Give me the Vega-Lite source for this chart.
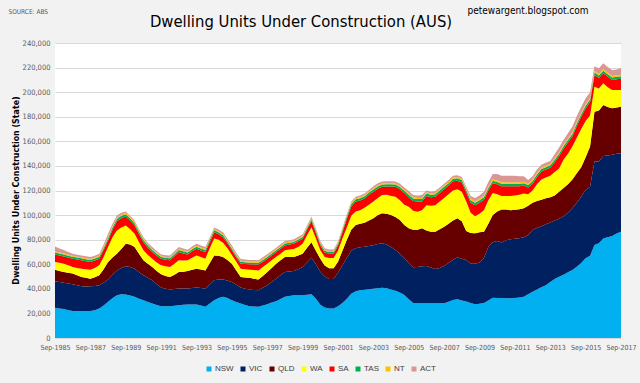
{
"$schema": "https://vega.github.io/schema/vega-lite/v6.json",
"width": 566, "height": 295,
"autosize": "none",
"padding": {"left": 55, "top": 43, "right": 19, "bottom": 45},
"background": "#f2f2f2",
"config": {"view": {"fill": "#ffffff", "stroke": null}},
"title": {"text": "Dwelling Units Under Construction (AUS)", "frame": "group", "anchor": "middle", "dx": -37, "offset": -25, "fontSize": 16.5, "fontWeight": "normal", "font": "Liberation Sans Narrow, DejaVu Sans Condensed, Liberation Sans", "color": "#000000"},
"datasets": {"ord": [{"state": "NSW", "o": 1}, {"state": "VIC", "o": 2}, {"state": "QLD", "o": 3}, {"state": "WA", "o": 4}, {"state": "SA", "o": 5}, {"state": "TAS", "o": 6}, {"state": "NT", "o": 7}, {"state": "ACT", "o": 8}]},
"data": {"values": [
{"q":"Sep-1985","NSW":24600,"VIC":21600,"QLD":9400,"WA":6200,"SA":6200,"TAS":1600,"NT":800,"ACT":4100},
{"q":"Dec-1985","NSW":24000,"VIC":21600,"QLD":9000,"WA":6600,"SA":6000,"TAS":1600,"NT":800,"ACT":3200},
{"q":"Mar-1986","NSW":23500,"VIC":21500,"QLD":8700,"WA":6800,"SA":5900,"TAS":1600,"NT":800,"ACT":2700},
{"q":"Jun-1986","NSW":22600,"VIC":21700,"QLD":8700,"WA":6200,"SA":6200,"TAS":1600,"NT":800,"ACT":2200},
{"q":"Sep-1986","NSW":21900,"VIC":21800,"QLD":8700,"WA":5400,"SA":6700,"TAS":1600,"NT":800,"ACT":1700},
{"q":"Dec-1986","NSW":22000,"VIC":20900,"QLD":8100,"WA":6000,"SA":6800,"TAS":1600,"NT":800,"ACT":1600},
{"q":"Mar-1987","NSW":21900,"VIC":20200,"QLD":7600,"WA":6700,"SA":6800,"TAS":1600,"NT":800,"ACT":1600},
{"q":"Jun-1987","NSW":21800,"VIC":20200,"QLD":7000,"WA":7000,"SA":6500,"TAS":1600,"NT":800,"ACT":1600},
{"q":"Sep-1987","NSW":21900,"VIC":20200,"QLD":6200,"WA":7300,"SA":6200,"TAS":1600,"NT":800,"ACT":1700},
{"q":"Dec-1987","NSW":22600,"VIC":19700,"QLD":7200,"WA":7500,"SA":6000,"TAS":1600,"NT":800,"ACT":1600},
{"q":"Mar-1988","NSW":24000,"VIC":18900,"QLD":8100,"WA":8100,"SA":5400,"TAS":1600,"NT":800,"ACT":1700},
{"q":"Jun-1988","NSW":26500,"VIC":18500,"QLD":11000,"WA":10000,"SA":5500,"TAS":1700,"NT":800,"ACT":2000},
{"q":"Sep-1988","NSW":29400,"VIC":18100,"QLD":14300,"WA":12200,"SA":5400,"TAS":1800,"NT":900,"ACT":2700},
{"q":"Dec-1988","NSW":32300,"VIC":19200,"QLD":14000,"WA":16500,"SA":6000,"TAS":1900,"NT":900,"ACT":2200},
{"q":"Mar-1989","NSW":34800,"VIC":20200,"QLD":13600,"WA":18900,"SA":7500,"TAS":1900,"NT":900,"ACT":1800},
{"q":"Jun-1989","NSW":35500,"VIC":21500,"QLD":15500,"WA":17500,"SA":7500,"TAS":1900,"NT":900,"ACT":1500},
{"q":"Sep-1989","NSW":35400,"VIC":22900,"QLD":18400,"WA":14800,"SA":7300,"TAS":1900,"NT":900,"ACT":1400},
{"q":"Dec-1989","NSW":34500,"VIC":23300,"QLD":18200,"WA":12500,"SA":7000,"TAS":1900,"NT":900,"ACT":1200},
{"q":"Mar-1990","NSW":33500,"VIC":22900,"QLD":17600,"WA":10800,"SA":6700,"TAS":1900,"NT":900,"ACT":1300},
{"q":"Jun-1990","NSW":32000,"VIC":21500,"QLD":15000,"WA":9500,"SA":6500,"TAS":1800,"NT":900,"ACT":1300},
{"q":"Sep-1990","NSW":30800,"VIC":20200,"QLD":12200,"WA":8100,"SA":6700,"TAS":1800,"NT":900,"ACT":1300},
{"q":"Dec-1990","NSW":29300,"VIC":19700,"QLD":11500,"WA":7000,"SA":6000,"TAS":1800,"NT":900,"ACT":1300},
{"q":"Mar-1991","NSW":28000,"VIC":19000,"QLD":10800,"WA":6700,"SA":5400,"TAS":1700,"NT":900,"ACT":1500},
{"q":"Jun-1991","NSW":26800,"VIC":17000,"QLD":10700,"WA":7000,"SA":5500,"TAS":1600,"NT":800,"ACT":1400},
{"q":"Sep-1991","NSW":25900,"VIC":15100,"QLD":10800,"WA":7300,"SA":5400,"TAS":1500,"NT":800,"ACT":1200},
{"q":"Dec-1991","NSW":25900,"VIC":14100,"QLD":10500,"WA":7800,"SA":5400,"TAS":1500,"NT":800,"ACT":1400},
{"q":"Mar-1992","NSW":25900,"VIC":13500,"QLD":10300,"WA":8100,"SA":5400,"TAS":1600,"NT":800,"ACT":1600},
{"q":"Jun-1992","NSW":26300,"VIC":13500,"QLD":11700,"WA":9000,"SA":6000,"TAS":1600,"NT":800,"ACT":1600},
{"q":"Sep-1992","NSW":26700,"VIC":13500,"QLD":13500,"WA":9500,"SA":6700,"TAS":1700,"NT":800,"ACT":1600},
{"q":"Dec-1992","NSW":27000,"VIC":13200,"QLD":13800,"WA":9000,"SA":5800,"TAS":1700,"NT":800,"ACT":1500},
{"q":"Mar-1993","NSW":27300,"VIC":12900,"QLD":14300,"WA":8700,"SA":4800,"TAS":1600,"NT":800,"ACT":1400},
{"q":"Jun-1993","NSW":27300,"VIC":13300,"QLD":14900,"WA":9700,"SA":5300,"TAS":1700,"NT":800,"ACT":1500},
{"q":"Sep-1993","NSW":27300,"VIC":13700,"QLD":15400,"WA":10800,"SA":5400,"TAS":1700,"NT":800,"ACT":1600},
{"q":"Dec-1993","NSW":26500,"VIC":14100,"QLD":15100,"WA":10100,"SA":5400,"TAS":1700,"NT":800,"ACT":1600},
{"q":"Mar-1994","NSW":25400,"VIC":14800,"QLD":14800,"WA":9500,"SA":5400,"TAS":1700,"NT":800,"ACT":1600},
{"q":"Jun-1994","NSW":28000,"VIC":15500,"QLD":17500,"WA":12000,"SA":5000,"TAS":1700,"NT":800,"ACT":1500},
{"q":"Sep-1994","NSW":30800,"VIC":16200,"QLD":20200,"WA":13800,"SA":5100,"TAS":1700,"NT":800,"ACT":1400},
{"q":"Dec-1994","NSW":32500,"VIC":15000,"QLD":19500,"WA":13000,"SA":4500,"TAS":1600,"NT":800,"ACT":1300},
{"q":"Mar-1995","NSW":33500,"VIC":14000,"QLD":18400,"WA":11600,"SA":4500,"TAS":1600,"NT":800,"ACT":1700},
{"q":"Jun-1995","NSW":32500,"VIC":14300,"QLD":16700,"WA":9500,"SA":4000,"TAS":1600,"NT":800,"ACT":1400},
{"q":"Sep-1995","NSW":30800,"VIC":14800,"QLD":14900,"WA":7000,"SA":3800,"TAS":1600,"NT":800,"ACT":1600},
{"q":"Dec-1995","NSW":29300,"VIC":14000,"QLD":11700,"WA":7000,"SA":3500,"TAS":1500,"NT":800,"ACT":1500},
{"q":"Mar-1996","NSW":28000,"VIC":13000,"QLD":8700,"WA":6700,"SA":4100,"TAS":1500,"NT":800,"ACT":1400},
{"q":"Jun-1996","NSW":26800,"VIC":13200,"QLD":9300,"WA":6700,"SA":4200,"TAS":1500,"NT":800,"ACT":1300},
{"q":"Sep-1996","NSW":25900,"VIC":13500,"QLD":9700,"WA":6500,"SA":4300,"TAS":1500,"NT":800,"ACT":1300},
{"q":"Dec-1996","NSW":25600,"VIC":13500,"QLD":9200,"WA":7000,"SA":4500,"TAS":1500,"NT":800,"ACT":1300},
{"q":"Mar-1997","NSW":25400,"VIC":13500,"QLD":8600,"WA":7500,"SA":4700,"TAS":1500,"NT":800,"ACT":1300},
{"q":"Jun-1997","NSW":26400,"VIC":14400,"QLD":9700,"WA":7200,"SA":4300,"TAS":1500,"NT":800,"ACT":1300},
{"q":"Sep-1997","NSW":27500,"VIC":15400,"QLD":10800,"WA":6800,"SA":4000,"TAS":1500,"NT":800,"ACT":1300},
{"q":"Dec-1997","NSW":28800,"VIC":16800,"QLD":11400,"WA":6200,"SA":4000,"TAS":1500,"NT":800,"ACT":1300},
{"q":"Mar-1998","NSW":30000,"VIC":18300,"QLD":12200,"WA":5400,"SA":4000,"TAS":1500,"NT":800,"ACT":1300},
{"q":"Jun-1998","NSW":31800,"VIC":19200,"QLD":12200,"WA":5400,"SA":4000,"TAS":1500,"NT":800,"ACT":1300},
{"q":"Sep-1998","NSW":33500,"VIC":20200,"QLD":12200,"WA":5400,"SA":4000,"TAS":1500,"NT":800,"ACT":1300},
{"q":"Dec-1998","NSW":34200,"VIC":19900,"QLD":11800,"WA":6100,"SA":4000,"TAS":1500,"NT":800,"ACT":1300},
{"q":"Mar-1999","NSW":34800,"VIC":19700,"QLD":11400,"WA":6600,"SA":4200,"TAS":1500,"NT":800,"ACT":1300},
{"q":"Jun-1999","NSW":34800,"VIC":21200,"QLD":11200,"WA":6800,"SA":4700,"TAS":1500,"NT":800,"ACT":1300},
{"q":"Sep-1999","NSW":34800,"VIC":23000,"QLD":10800,"WA":8100,"SA":4000,"TAS":1500,"NT":800,"ACT":1300},
{"q":"Dec-1999","NSW":35200,"VIC":26300,"QLD":12000,"WA":10000,"SA":4500,"TAS":1500,"NT":800,"ACT":1300},
{"q":"Mar-2000","NSW":35600,"VIC":29700,"QLD":12700,"WA":12200,"SA":4800,"TAS":1500,"NT":800,"ACT":1300},
{"q":"Jun-2000","NSW":32000,"VIC":28000,"QLD":11000,"WA":10000,"SA":4500,"TAS":1500,"NT":800,"ACT":1300},
{"q":"Sep-2000","NSW":27000,"VIC":27000,"QLD":10500,"WA":6800,"SA":4000,"TAS":1500,"NT":800,"ACT":1300},
{"q":"Dec-2000","NSW":24800,"VIC":25200,"QLD":9000,"WA":7000,"SA":3500,"TAS":1400,"NT":800,"ACT":1300},
{"q":"Mar-2001","NSW":24100,"VIC":23900,"QLD":8700,"WA":8300,"SA":3500,"TAS":1400,"NT":800,"ACT":1300},
{"q":"Jun-2001","NSW":24100,"VIC":23900,"QLD":8700,"WA":8300,"SA":3500,"TAS":1400,"NT":800,"ACT":1300},
{"q":"Sep-2001","NSW":25800,"VIC":27200,"QLD":9000,"WA":9000,"SA":4000,"TAS":1600,"NT":800,"ACT":1200},
{"q":"Dec-2001","NSW":28500,"VIC":30500,"QLD":12000,"WA":10000,"SA":5000,"TAS":1600,"NT":800,"ACT":1200},
{"q":"Mar-2002","NSW":32000,"VIC":33000,"QLD":15000,"WA":10000,"SA":7000,"TAS":1800,"NT":900,"ACT":1100},
{"q":"Jun-2002","NSW":36000,"VIC":35000,"QLD":17000,"WA":11500,"SA":7500,"TAS":1800,"NT":900,"ACT":1300},
{"q":"Sep-2002","NSW":38000,"VIC":35000,"QLD":19000,"WA":11000,"SA":8000,"TAS":1800,"NT":900,"ACT":1300},
{"q":"Dec-2002","NSW":38800,"VIC":35000,"QLD":19200,"WA":11000,"SA":7800,"TAS":1800,"NT":900,"ACT":1500},
{"q":"Mar-2003","NSW":39200,"VIC":35100,"QLD":19500,"WA":12200,"SA":7500,"TAS":1800,"NT":900,"ACT":1300},
{"q":"Jun-2003","NSW":39600,"VIC":35300,"QLD":20600,"WA":13000,"SA":8000,"TAS":1800,"NT":900,"ACT":1300},
{"q":"Sep-2003","NSW":40000,"VIC":35500,"QLD":22000,"WA":13500,"SA":8000,"TAS":1800,"NT":900,"ACT":1800},
{"q":"Dec-2003","NSW":40500,"VIC":36000,"QLD":23500,"WA":14000,"SA":7500,"TAS":1800,"NT":900,"ACT":1800},
{"q":"Mar-2004","NSW":40900,"VIC":36100,"QLD":24500,"WA":14900,"SA":6600,"TAS":1800,"NT":900,"ACT":1600},
{"q":"Jun-2004","NSW":40500,"VIC":35500,"QLD":25000,"WA":15500,"SA":6800,"TAS":1800,"NT":900,"ACT":1500},
{"q":"Sep-2004","NSW":39500,"VIC":34500,"QLD":26000,"WA":15500,"SA":7800,"TAS":1800,"NT":900,"ACT":1500},
{"q":"Dec-2004","NSW":38500,"VIC":33000,"QLD":27000,"WA":16500,"SA":8000,"TAS":1800,"NT":900,"ACT":1600},
{"q":"Mar-2005","NSW":37000,"VIC":31500,"QLD":27500,"WA":16000,"SA":9000,"TAS":1800,"NT":900,"ACT":1800},
{"q":"Jun-2005","NSW":35000,"VIC":30000,"QLD":27000,"WA":16500,"SA":9500,"TAS":1800,"NT":900,"ACT":1800},
{"q":"Sep-2005","NSW":31500,"VIC":29500,"QLD":28200,"WA":17600,"SA":7700,"TAS":2000,"NT":1000,"ACT":2000},
{"q":"Dec-2005","NSW":28500,"VIC":29000,"QLD":30500,"WA":15500,"SA":8000,"TAS":2000,"NT":1000,"ACT":1900},
{"q":"Mar-2006","NSW":28200,"VIC":29600,"QLD":30200,"WA":14800,"SA":8200,"TAS":2000,"NT":1000,"ACT":2000},
{"q":"Jun-2006","NSW":28200,"VIC":30100,"QLD":30900,"WA":14800,"SA":7000,"TAS":2000,"NT":1000,"ACT":2400},
{"q":"Sep-2006","NSW":28200,"VIC":30400,"QLD":28900,"WA":20500,"SA":7500,"TAS":2000,"NT":1000,"ACT":1500},
{"q":"Dec-2006","NSW":28200,"VIC":29100,"QLD":29200,"WA":21000,"SA":7000,"TAS":2000,"NT":1000,"ACT":1500},
{"q":"Mar-2007","NSW":28200,"VIC":27900,"QLD":30400,"WA":21500,"SA":7000,"TAS":2000,"NT":1000,"ACT":1500},
{"q":"Jun-2007","NSW":28200,"VIC":28800,"QLD":31500,"WA":22500,"SA":7000,"TAS":2000,"NT":1000,"ACT":1500},
{"q":"Sep-2007","NSW":28200,"VIC":30400,"QLD":32000,"WA":23400,"SA":7000,"TAS":2000,"NT":1000,"ACT":1500},
{"q":"Dec-2007","NSW":29500,"VIC":31500,"QLD":32000,"WA":24000,"SA":7000,"TAS":2000,"NT":1000,"ACT":1500},
{"q":"Mar-2008","NSW":31000,"VIC":32500,"QLD":32000,"WA":24500,"SA":7500,"TAS":2000,"NT":1000,"ACT":1500},
{"q":"Jun-2008","NSW":31500,"VIC":34100,"QLD":31800,"WA":23600,"SA":7000,"TAS":2000,"NT":1000,"ACT":1500},
{"q":"Sep-2008","NSW":30500,"VIC":34000,"QLD":30500,"WA":24000,"SA":7500,"TAS":2000,"NT":1000,"ACT":1500},
{"q":"Dec-2008","NSW":29600,"VIC":33900,"QLD":23500,"WA":24000,"SA":7500,"TAS":2000,"NT":1000,"ACT":1500},
{"q":"Mar-2009","NSW":28500,"VIC":32000,"QLD":25000,"WA":16500,"SA":8000,"TAS":2000,"NT":1200,"ACT":2300},
{"q":"Jun-2009","NSW":27500,"VIC":33000,"QLD":24700,"WA":13800,"SA":9000,"TAS":2000,"NT":1200,"ACT":2800},
{"q":"Sep-2009","NSW":27800,"VIC":33700,"QLD":24500,"WA":15000,"SA":9000,"TAS":2000,"NT":1200,"ACT":2800},
{"q":"Dec-2009","NSW":28500,"VIC":36500,"QLD":21500,"WA":17500,"SA":8500,"TAS":2000,"NT":1200,"ACT":3300},
{"q":"Mar-2010","NSW":30500,"VIC":43500,"QLD":19000,"WA":19000,"SA":8000,"TAS":2000,"NT":1200,"ACT":3800},
{"q":"Jun-2010","NSW":32800,"VIC":45200,"QLD":22000,"WA":18000,"SA":7900,"TAS":2000,"NT":1200,"ACT":4300},
{"q":"Sep-2010","NSW":32600,"VIC":46400,"QLD":24000,"WA":14000,"SA":8000,"TAS":2000,"NT":1200,"ACT":5300},
{"q":"Dec-2010","NSW":32500,"VIC":45100,"QLD":26900,"WA":11000,"SA":8000,"TAS":2000,"NT":1200,"ACT":5300},
{"q":"Mar-2011","NSW":32400,"VIC":47100,"QLD":25000,"WA":11000,"SA":8000,"TAS":2000,"NT":1200,"ACT":5300},
{"q":"Jun-2011","NSW":32300,"VIC":48000,"QLD":23700,"WA":11500,"SA":8000,"TAS":2000,"NT":1200,"ACT":5300},
{"q":"Sep-2011","NSW":32600,"VIC":48100,"QLD":23600,"WA":11700,"SA":7500,"TAS":2000,"NT":1200,"ACT":5300},
{"q":"Dec-2011","NSW":33000,"VIC":48200,"QLD":23600,"WA":11700,"SA":7000,"TAS":2000,"NT":1200,"ACT":4800},
{"q":"Mar-2012","NSW":33600,"VIC":48300,"QLD":23600,"WA":12000,"SA":6500,"TAS":2000,"NT":1200,"ACT":4300},
{"q":"Jun-2012","NSW":35500,"VIC":48000,"QLD":24000,"WA":9500,"SA":5500,"TAS":2000,"NT":1200,"ACT":2800},
{"q":"Sep-2012","NSW":37700,"VIC":50200,"QLD":22100,"WA":10000,"SA":5500,"TAS":2000,"NT":1200,"ACT":2800},
{"q":"Dec-2012","NSW":39500,"VIC":50000,"QLD":22000,"WA":13500,"SA":6000,"TAS":2000,"NT":1200,"ACT":2800},
{"q":"Mar-2013","NSW":41300,"VIC":49700,"QLD":21500,"WA":16500,"SA":6500,"TAS":2000,"NT":1200,"ACT":2300},
{"q":"Jun-2013","NSW":43000,"VIC":49500,"QLD":21200,"WA":16800,"SA":6500,"TAS":2000,"NT":1200,"ACT":2300},
{"q":"Sep-2013","NSW":45500,"VIC":48500,"QLD":20500,"WA":17500,"SA":6500,"TAS":2000,"NT":1200,"ACT":2300},
{"q":"Dec-2013","NSW":48000,"VIC":47500,"QLD":20500,"WA":19000,"SA":8000,"TAS":2000,"NT":1200,"ACT":3300},
{"q":"Mar-2014","NSW":49900,"VIC":47100,"QLD":22000,"WA":19000,"SA":10000,"TAS":2000,"NT":1200,"ACT":3800},
{"q":"Jun-2014","NSW":51500,"VIC":47500,"QLD":23000,"WA":23000,"SA":9000,"TAS":2000,"NT":1200,"ACT":3800},
{"q":"Sep-2014","NSW":53500,"VIC":48500,"QLD":23000,"WA":25000,"SA":9000,"TAS":2000,"NT":1200,"ACT":4300},
{"q":"Dec-2014","NSW":55300,"VIC":50200,"QLD":23500,"WA":26700,"SA":8300,"TAS":2000,"NT":1200,"ACT":4800},
{"q":"Mar-2015","NSW":58000,"VIC":52000,"QLD":24000,"WA":29000,"SA":9500,"TAS":2000,"NT":1200,"ACT":4800},
{"q":"Jun-2015","NSW":61000,"VIC":54000,"QLD":24000,"WA":31000,"SA":10000,"TAS":2000,"NT":1200,"ACT":4800},
{"q":"Sep-2015","NSW":64800,"VIC":55600,"QLD":26600,"WA":29500,"SA":10500,"TAS":2000,"NT":1200,"ACT":4800},
{"q":"Dec-2015","NSW":67000,"VIC":56000,"QLD":32700,"WA":25300,"SA":11000,"TAS":2000,"NT":1200,"ACT":4800},
{"q":"Mar-2016","NSW":75700,"VIC":67800,"QLD":40500,"WA":20500,"SA":9500,"TAS":2000,"NT":1200,"ACT":3800},
{"q":"Jun-2016","NSW":77000,"VIC":66500,"QLD":41500,"WA":18000,"SA":8500,"TAS":2000,"NT":1200,"ACT":4800},
{"q":"Sep-2016","NSW":81000,"VIC":67000,"QLD":41600,"WA":17600,"SA":8200,"TAS":2000,"NT":1200,"ACT":4900},
{"q":"Dec-2016","NSW":82000,"VIC":66500,"QLD":39500,"WA":16000,"SA":8500,"TAS":2000,"NT":1200,"ACT":4800},
{"q":"Mar-2017","NSW":83000,"VIC":66000,"QLD":37900,"WA":14900,"SA":8200,"TAS":2000,"NT":1200,"ACT":4800},
{"q":"Jun-2017","NSW":85000,"VIC":64800,"QLD":37700,"WA":14300,"SA":8700,"TAS":2000,"NT":1200,"ACT":4800},
{"q":"Sep-2017","NSW":86500,"VIC":63800,"QLD":37900,"WA":13600,"SA":9200,"TAS":2000,"NT":1200,"ACT":5200}
]},
"transform": [
{"fold": ["NSW", "VIC", "QLD", "WA", "SA", "TAS", "NT", "ACT"], "as": ["state", "units"]},
{"lookup": "state", "from": {"data": {"name": "ord"}, "key": "state", "fields": ["o"]}}
],
"layer": [
{"mark": {"type": "area", "interpolate": "linear"},
 "encoding": {
  "x": {"field": "q", "type": "ordinal", "sort": null, "scale": {"type": "point", "padding": 0},
   "axis": {"values": ["Sep-1985","Sep-1987","Sep-1989","Sep-1991","Sep-1993","Sep-1995","Sep-1997","Sep-1999","Sep-2001","Sep-2003","Sep-2005","Sep-2007","Sep-2009","Sep-2011","Sep-2013","Sep-2015","Sep-2017"],
    "title": null, "labelAngle": 0, "ticks": false, "domain": false, "grid": false, "labelFontSize": 7, "labelFont": "Liberation Sans Narrow, DejaVu Sans Condensed, Liberation Sans", "labelColor": "#595959", "labelPadding": 5}},
  "y": {"field": "units", "type": "quantitative", "stack": "zero", "scale": {"domain": [0, 240000]},
   "axis": {"values": [0,20000,40000,60000,80000,100000,120000,140000,160000,180000,200000,220000,240000], "labelExpr": "format(datum.value, ',')", "ticks": false, "domain": false, "gridColor": "#d9d9d9", "labelFontSize": 7.5, "labelFont": "Liberation Sans Narrow, DejaVu Sans Condensed, Liberation Sans", "labelColor": "#595959", "labelPadding": 5,
    "title": "Dwelling Units Under Construction (State)", "titleFontSize": 8.8, "titleFontWeight": "bold", "titleFont": "Liberation Sans Narrow, DejaVu Sans Condensed, Liberation Sans", "titleColor": "#000000", "titleX": -40, "titleY": 147, "titleAlign": "center", "titleBaseline": "middle", "titleAngle": -90}},
  "color": {"field": "state", "type": "nominal",
   "scale": {"domain": ["NSW", "VIC", "QLD", "WA", "SA", "TAS", "NT", "ACT"], "range": ["#00b0f0", "#002060", "#660000", "#ffff00", "#ff0000", "#00b050", "#ffc000", "#da9694"]},
   "legend": {"orient": "none", "legendX": 150, "legendY": 322, "direction": "horizontal", "columns": 8, "title": null, "symbolType": "square", "symbolSize": 25, "symbolStrokeWidth": 0, "labelFontSize": 8, "labelFont": "Liberation Sans", "labelColor": "#404040", "columnPadding": 5, "labelOffset": 2}},
  "order": {"field": "o", "type": "quantitative"}
 }},
{"mark": {"type": "rule", "opacity": 0},
 "encoding": {
  "x": {"field": "q", "type": "ordinal", "sort": null, "scale": {"type": "point", "padding": 0},
   "axis": {"orient": "top", "labels": false, "ticks": false, "domain": false, "grid": false, "title": "SOURCE: ABS", "titleX": -47, "titleY": -32, "titleAlign": "left", "titleBaseline": "middle", "titleFontSize": 6.5, "titleFontWeight": "normal", "titleFont": "Liberation Sans Narrow, DejaVu Sans Condensed, Liberation Sans", "titleColor": "#595959"}}
 }},
{"mark": {"type": "rule", "opacity": 0},
 "encoding": {
  "y": {"datum": 0, "type": "quantitative", "scale": {"domain": [0, 240000]},
   "axis": {"orient": "right", "labels": false, "ticks": false, "domain": false, "grid": false, "title": "petewargent.blogspot.com", "titleAngle": 0, "titleX": -33, "titleY": -33, "titleAlign": "right", "titleBaseline": "middle", "titleFontSize": 10, "titleFontWeight": "normal", "titleFont": "Liberation Sans Narrow, DejaVu Sans Condensed, Liberation Sans", "titleColor": "#000000"}}
 }}
],
"resolve": {"axis": {"x": "independent", "y": "independent"}}
}
